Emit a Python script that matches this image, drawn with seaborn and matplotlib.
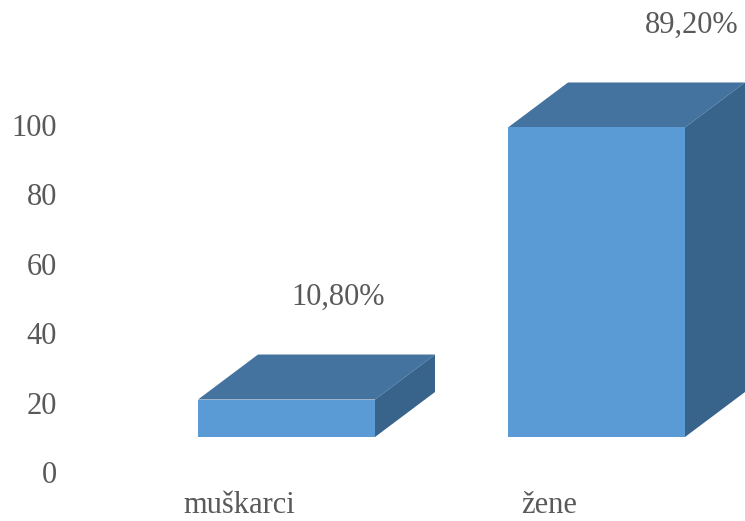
import matplotlib
matplotlib.use("Agg")
import matplotlib.pyplot as plt
import seaborn as sns
from matplotlib.patches import Polygon

# data
categories = ["muškarci", "žene"]
values = [10.8, 89.2]
value_labels = ["10,80%", "89,20%"]
y_ticks = [0, 20, 40, 60, 80, 100]

# style
front_color = "#5B9BD5"
top_color = "#43739E"
side_color = "#38638A"
text_color = "#595959"
font_size = 22

fig_w, fig_h = 745, 521
dpi = 100

# pixel layout of the reference (3D projection of an Excel chart)
px_per_unit_y = 3.47
px_per_cat = 310
zero_px = 472          # y pixel of value 0
cat0_px = 239          # x pixel of first category label
ax_left_px = 80

bar_width = 177 / px_per_cat
bar_shift = 47.5 / px_per_cat
bar_base = (zero_px - 437) / px_per_unit_y
depth_dx = 60 / px_per_cat
depth_dy = 45 / px_per_unit_y
label_dx = [0.32, 0.46]
label_dy = 39.5

sns.set_theme(style="white")
plt.rcParams["font.family"] = ["Liberation Serif", "DejaVu Serif"]

fig = plt.figure(figsize=(fig_w / dpi, fig_h / dpi), dpi=dpi)
ax = fig.add_axes([ax_left_px / fig_w, (fig_h - zero_px) / fig_h,
                   (fig_w - ax_left_px) / fig_w, zero_px / fig_h])

sns.barplot(x=categories, y=values, width=bar_width, color=front_color,
            saturation=1, linewidth=0, ax=ax, zorder=3)

for i, p in enumerate(ax.patches):
    p.set_x(p.get_x() + bar_shift)
    p.set_y(bar_base)
    p.set_clip_on(False)
    x0 = p.get_x()
    x1 = x0 + p.get_width()
    y0 = bar_base
    y1 = bar_base + p.get_height()
    top = Polygon([(x0, y1), (x1, y1), (x1 + depth_dx, y1 + depth_dy), (x0 + depth_dx, y1 + depth_dy)],
                  closed=True, facecolor=top_color, edgecolor="none", zorder=2, clip_on=False)
    side = Polygon([(x1, y0), (x1 + depth_dx, y0 + depth_dy), (x1 + depth_dx, y1 + depth_dy), (x1, y1)],
                   closed=True, facecolor=side_color, edgecolor="none", zorder=2, clip_on=False)
    ax.add_patch(top)
    ax.add_patch(side)
    ax.text(i + label_dx[i], values[i] + label_dy, value_labels[i], ha="center", va="center",
            fontsize=font_size, color=text_color)

ax.set_xlim(-(cat0_px - ax_left_px) / px_per_cat, (fig_w - cat0_px) / px_per_cat)
ax.set_ylim(0, zero_px / px_per_unit_y)
ax.set_yticks(y_ticks)
ax.set_yticklabels([str(t) for t in y_ticks])
ax.tick_params(axis="both", length=0, labelsize=font_size, labelcolor=text_color)
ax.tick_params(axis="y", pad=16.5)
ax.tick_params(axis="x", pad=14)
ax.set_xlabel("")
ax.set_ylabel("")
sns.despine(ax=ax, left=True, bottom=True)
ax.grid(False)

fig.savefig("out.png", dpi=dpi)
